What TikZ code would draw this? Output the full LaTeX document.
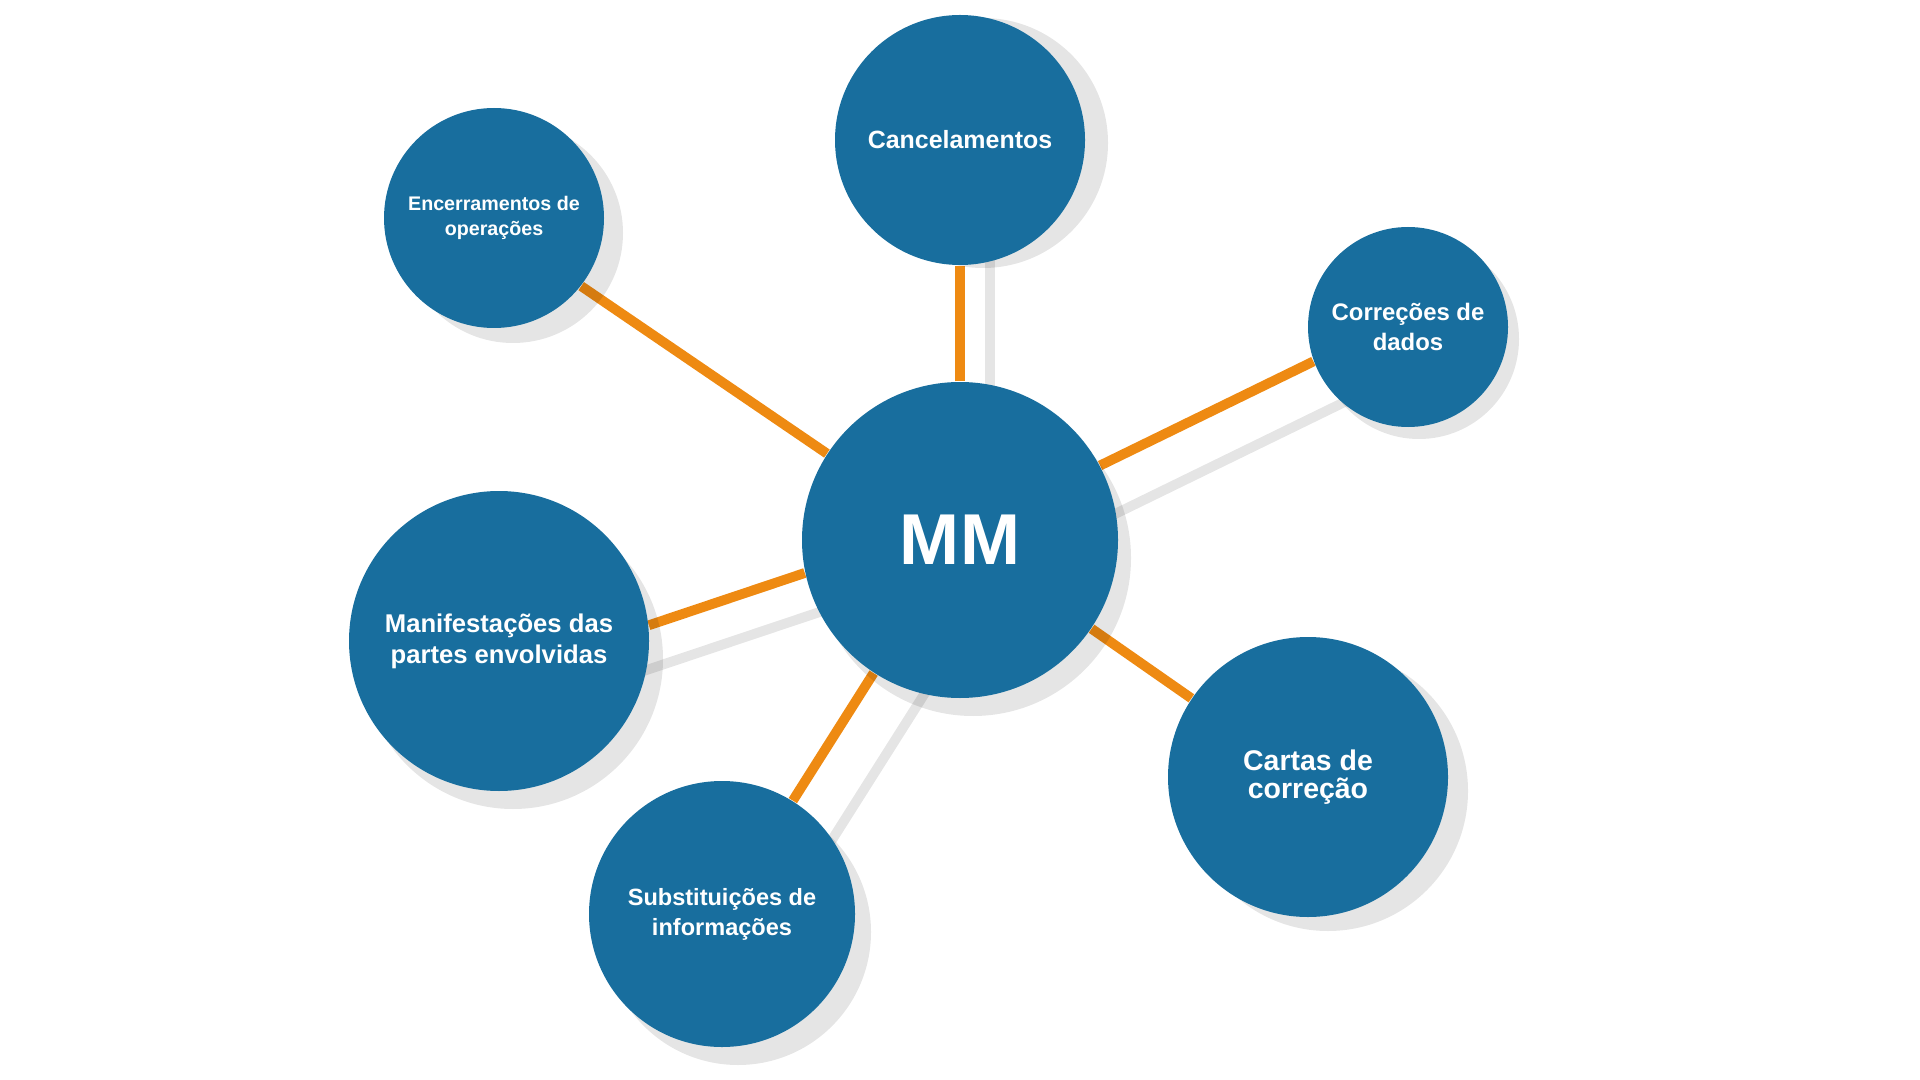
\documentclass[tikz,border=0pt]{standalone}
\usepackage{fontspec}
\setmainfont{Liberation Sans}
\usepackage{tikz}
\definecolor{mblue}{HTML}{186E9E}
\definecolor{morange}{HTML}{EE8A12}
\definecolor{mgrey}{HTML}{E5E5E5}
\usetikzlibrary{calc,backgrounds}

\begin{document}
\begin{tikzpicture}
    \tikzset{bub/.style={
      circle,
      fill=mblue,
      text=white,
      inner sep=0pt,
      align=center},
      lnk/.style={draw=morange, line width=2.8pt},
      shln/.style={draw=mgrey, line width=2.8pt, shorten <=-0.8cm, shorten >=-0.8cm},
      shd/.style={fill=black, opacity=0.1}}
    \useasboundingbox (0, 0) rectangle (19.2, -10.8);
    \node[bub, minimum size=3.16cm, font={\bfseries\fontsize{20.5}{24}\selectfont}] at (9.60, -5.40) (mm) {MM};
    \node[bub, minimum size=2.50cm, font={\bfseries\fontsize{7.1}{8.5}\selectfont}] at (9.60, -1.40) (canc) {Cancelamentos};
    \node[bub, minimum size=2.20cm, font={\bfseries\fontsize{5.6}{7}\selectfont}] at (4.94, -2.18) (enc) {Encerramentos de\\operações};
    \node[bub, minimum size=2.00cm, font={\bfseries\fontsize{6.8}{8.5}\selectfont}] at (14.08, -3.27) (corr) {Correções de\\dados};
    \node[bub, minimum size=3.00cm, font={\bfseries\fontsize{7.3}{8.8}\selectfont}] at (4.99, -6.41) (man) {Manifestações das\\partes envolvidas};
    \node[bub, minimum size=2.80cm, font={\bfseries\fontsize{8.1}{7.9}\selectfont}] at (13.08, -7.77) (cart) {Cartas de\\correção};
    \node[bub, minimum size=2.66cm, font={\bfseries\fontsize{6.7}{8.5}\selectfont}] at (7.22, -9.14) (sub) {Substituições de\\informações};
    \begin{scope}[on background layer]
      \draw[shln, transform canvas={shift={(0.30, 0)}}] (mm.90) -- (canc.-90);
      \draw[shln, transform canvas={shift={(0.20, -0.46)}}] (mm.28) -- (corr.200);
      \draw[shln, transform canvas={shift={(0, -0.44)}}] (mm.192) -- (man.6);
      \draw[shln, transform canvas={shift={(0.64, 0)}}] (mm.237) -- (sub.58);
      \draw[lnk] (mm.90) -- (canc.-90);
      \draw[lnk] (mm.147) -- (enc.-38);
      \draw[lnk] (mm.28) -- (corr.200);
      \draw[lnk] (mm.-34) -- (cart.146);
      \draw[lnk] (mm.192) -- (man.6);
      \draw[lnk] (mm.237) -- (sub.58);
      \foreach \n/\dx/\dy/\rad in {mm/0.13/-0.18/1.58, canc/0.23/-0.03/1.25, enc/0.19/-0.15/1.10,
        corr/0.11/-0.12/1.00, man/0.14/-0.18/1.50, cart/0.20/-0.14/1.40, sub/0.16/-0.18/1.33}
        \fill[shd] ($(\n)+(\dx, \dy)$) circle (\rad);
    \end{scope}
\end{tikzpicture}
\end{document}
